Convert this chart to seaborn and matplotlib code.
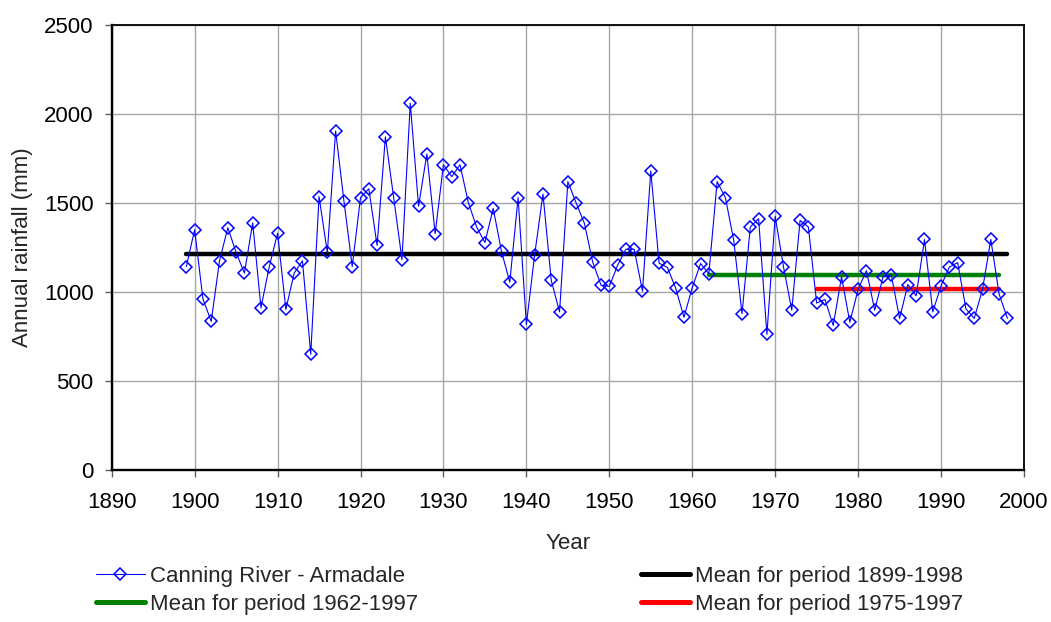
import numpy as np
import pandas as pd
import matplotlib
matplotlib.use("Agg")
import matplotlib.pyplot as plt
import seaborn as sns
from matplotlib.lines import Line2D

years = list(range(1899, 1999))
rainfall = [
    1143, 1350, 961, 835, 1175, 1361, 1223, 1106, 1388, 911,
    1143, 1330, 902, 1106, 1175, 650, 1536, 1223, 1905, 1512,
    1143, 1530, 1580, 1262, 1872, 1530, 1182, 2060, 1482, 1775,
    1328, 1715, 1648, 1715, 1502, 1365, 1278, 1470, 1228, 1055,
    1530, 818, 1210, 1550, 1065, 888, 1620, 1500, 1385, 1168,
    1038, 1032, 1150, 1240, 1240, 1005, 1680, 1162, 1138, 1022,
    858, 1025, 1160, 1103, 1620, 1530, 1290, 878, 1365, 1412,
    762, 1425, 1142, 898, 1402, 1365, 938, 958, 812, 1085,
    830, 1015, 1120, 898, 1085, 1095, 852, 1042, 978, 1295,
    888, 1035, 1140, 1165, 905, 852, 1015, 1295, 988, 852,
]

mean_labels = ["Mean for period 1899-1998", "Mean for period 1962-1997", "Mean for period 1975-1997"]
mean_starts = [1899, 1962, 1975]
mean_ends = [1998, 1997, 1997]
mean_values = [1213, 1097, 1019]
mean_colors = ["#000000", "#008000", "#FF0000"]

series_label = "Canning River - Armadale"
xticks = list(range(1890, 2001, 10))
yticks = list(range(0, 2501, 500))

sns.set_theme(style="white")
plt.rcParams['font.family'] = ['Liberation Sans', 'DejaVu Sans']

FS = 16
fig = plt.figure(figsize=(10.51, 6.22), dpi=100)
ax = fig.add_axes([111.7/1051, 1 - 470/622, (1024 - 111.7)/1051, (470 - 25)/622])

df = pd.DataFrame({"Year": years, "Rain": rainfall})

for lab, s, e, v, c in zip(mean_labels, mean_starts, mean_ends, mean_values, mean_colors):
    mdf = pd.DataFrame({"Year": [s, e], "Rain": [v, v]})
    sns.lineplot(data=mdf, x="Year", y="Rain", ax=ax, color=c, linewidth=3.2,
                 solid_capstyle="round", zorder=3, legend=False)

sns.lineplot(data=df, x="Year", y="Rain", ax=ax, color="#0000FF", linewidth=0.8,
             marker="D", markersize=6.5, markerfacecolor="none",
             markeredgecolor="#0000FF", markeredgewidth=1.1, zorder=4, legend=False)

ax.set_xlim(1890, 2000)
ax.set_ylim(0, 2500)
ax.set_xticks(xticks)
ax.set_yticks(yticks)
ax.grid(True, color="#A8A8A8", linewidth=1.0)
ax.set_axisbelow(True)
for sp in ["top", "right"]:
    ax.spines[sp].set_color("black")
    ax.spines[sp].set_linewidth(1.3)
for sp in ["left", "bottom"]:
    ax.spines[sp].set_color("black")
    ax.spines[sp].set_linewidth(1.7)
ax.tick_params(axis="both", which="both", direction="out", length=5, width=1,
               color="#606060", labelsize=FS, labelcolor="black")
ax.tick_params(axis="y", pad=8)
ax.tick_params(axis="x", pad=11)
ax.tick_params(left=True, bottom=True)
ax.set_xlabel("Year", fontsize=FS, labelpad=14)
ax.set_ylabel("Annual rainfall (mm)", fontsize=FS, labelpad=8)

h_series = Line2D([], [], color="#0000FF", linewidth=0.8, marker="D", markersize=6.5,
                  markerfacecolor="none", markeredgecolor="#0000FF", markeredgewidth=1.1)
h_means = [Line2D([], [], color=c, linewidth=3.6, solid_capstyle="round") for c in mean_colors]
handles = [h_series, h_means[1], h_means[0], h_means[2]]
labels = [series_label, mean_labels[1], mean_labels[0], mean_labels[2]]
fig.legend(handles, labels, ncol=2, loc="upper left", bbox_to_anchor=(96/1051, 1 - 566/622),
           frameon=False, fontsize=FS, handlelength=2.2, handletextpad=0.25,
           columnspacing=10.0, labelspacing=0.3, borderpad=0, borderaxespad=0)

fig.savefig("out.png", dpi=100)
